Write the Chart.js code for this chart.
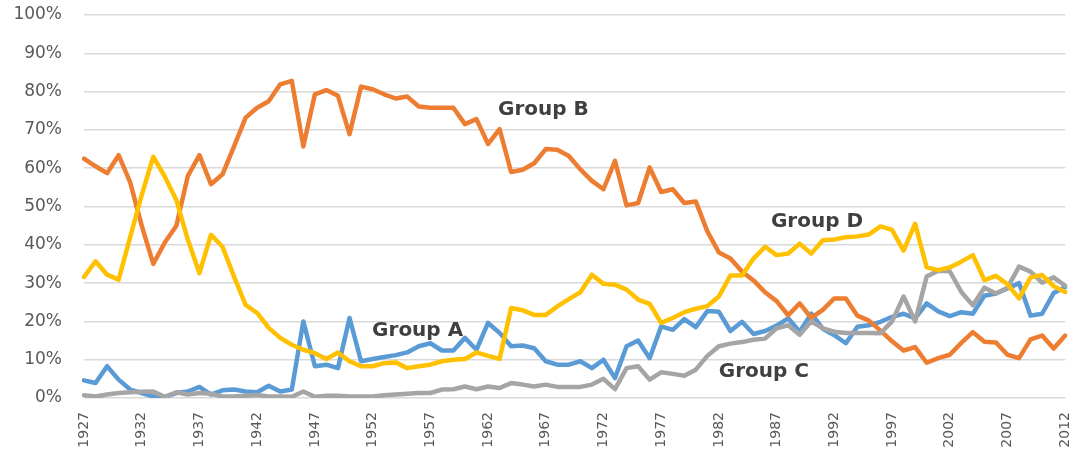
<!DOCTYPE html>
<html>
<head>
<meta charset="utf-8">
<script src="https://cdn.jsdelivr.net/npm/chart.js@4/dist/chart.umd.min.js"></script>
<style>
    html, body { margin: 0; padding: 0; background: #fff; }
    #wrap { width: 1088px; height: 453px; }
</style>
</head>
<body>
<div id="wrap"><canvas id="shareChart"></canvas></div>
<script>
// years 1927..2012
const years = [];
for (let y = 1927; y <= 2012; y++) years.push(String(y));

const groupA = [4.6,3.9,8.3,4.8,2.2,1.3,0.4,0.3,1.3,1.7,2.9,0.9,2,2.2,1.7,1.5,3.2,1.7,2.2,20,8.3,8.7,7.8,20.9,9.6,
    10.2,10.7,11.2,11.9,13.5,14.3,12.4,12.4,15.7,12.6,19.6,17,13.5,13.7,13,9.6,8.7,8.7,9.6,7.8,10,5.2,13.5,15,10.4,18.7,17.8,20.6,18.5,
    22.7,22.5,17.5,19.9,16.7,17.5,18.9,20.8,17.3,22,18.1,16.4,14.3,18.6,19,19.9,21.2,22,20.8,24.7,22.6,21.4,22.4,22,26.7,27.3,28.6,30,21.5,22,27.4,29];
const groupB = [62.5,60.5,58.7,63.4,56.3,45,35,40.6,45,58,63.4,55.8,58.4,65.7,73.2,75.8,77.5,81.9,82.8,65.7,79.3,80.4,78.9,68.9,81.3,
    80.6,79.3,78.2,78.7,76.1,75.8,75.8,75.8,71.5,72.8,66.3,70.2,59,59.6,61.3,65,64.8,63.2,59.7,56.7,54.5,61.9,50.3,50.9,60.2,53.8,54.5,50.9,51.3,
    43.5,38,36.4,33,30.7,27.6,25.3,21.6,24.7,20.9,23,26,26,21.5,20.2,17.6,14.8,12.4,13.3,9.2,10.4,11.3,14.4,17.2,14.7,14.5,11.3,10.4,15.3,16.3,12.9,16.3];
const groupC = [0.7,0.4,0.9,1.3,1.5,1.6,1.7,0.3,1.5,0.9,1.3,1.1,0.4,0.4,0.6,0.8,0.4,0.4,0.3,1.7,0.3,0.6,0.6,0.4,0.4,
    0.4,0.7,0.9,1.1,1.3,1.3,2.2,2.3,3,2.3,3,2.6,3.9,3.5,3,3.5,2.9,2.9,2.9,3.5,5,2.3,7.8,8.3,4.8,6.7,6.3,5.8,7.4,
    11,13.5,14.2,14.6,15.2,15.5,18.2,19,16.5,20,18.2,17.3,17,17,17,16.9,20,26.5,20,31.7,33.2,33.1,27.7,24.2,28.8,27.3,28.8,34.3,33,30.1,31.5,29.3];
const groupD = [31.6,35.7,32.2,30.9,42,53,63,57.8,51.7,41.3,32.6,42.6,39.5,31.7,24.3,22.2,18.3,15.7,13.9,12.6,11.7,10.2,11.9,9.6,8.3,
    8.3,9.1,9.3,7.8,8.3,8.7,9.6,10,10.2,11.9,11,10.2,23.5,22.9,21.7,21.7,23.9,25.8,27.6,32.2,29.8,29.6,28.3,25.7,24.6,19.6,20.9,22.4,23.3,
    24,26.5,32,32,36.4,39.5,37.3,37.7,40.3,37.7,41.2,41.4,42,42.2,42.7,44.8,43.9,38.5,45.5,34.1,33.4,34.1,35.6,37.3,30.8,31.9,29.7,26,31.5,32.1,29.2,27.7];

const seriesNames = ['Group A', 'Group B', 'Group C', 'Group D'];
const yTicks = [0, 10, 20, 30, 40, 50, 60, 70, 80, 90, 100];

// where the in-plot labels sit (year, percent)
const noteYears = [1955.9, 1966.8, 1985.9, 1990.5];
const noteValues = [17.6, 75.3, 6.9, 46.1];

const colors = ['#5B9BD5', '#ED7D31', '#A5A5A5', '#FFC000'];

const groupLabels = {
    id: 'groupLabels',
    afterDatasetsDraw(chart) {
        const { ctx, scales: { x, y } } = chart;
        ctx.save();
        ctx.font = 'bold 20px "DejaVu Sans"';
        ctx.fillStyle = '#404040';
        ctx.textAlign = 'center';
        ctx.textBaseline = 'middle';
        seriesNames.forEach((name, i) => {
            const px = x.getPixelForValue(noteYears[i] - 1927);
            const py = y.getPixelForValue(noteValues[i]);
            ctx.fillText(name, px, py);
        });
        ctx.restore();
    }
};

const makeSet = (i, data, order) => ({
    label: seriesNames[i],
    data: data,
    borderColor: colors[i],
    backgroundColor: colors[i],
    borderWidth: 4.5,
    pointRadius: 0,
    tension: 0,
    borderJoinStyle: 'round',
    borderCapStyle: 'round',
    order: order
});

const ctx = document.getElementById('shareChart').getContext('2d');
new Chart(ctx, {
    type: 'line',
    data: {
        labels: years,
        datasets: [
            makeSet(0, groupA, 4),
            makeSet(1, groupB, 3),
            makeSet(2, groupC, 2),
            makeSet(3, groupD, 1)
        ]
    },
    options: {
        responsive: true,
        maintainAspectRatio: false,
        animation: false,
        layout: { padding: { top: 15, right: 12, left: 0, bottom: 0 } },
        plugins: {
            legend: { display: false },
            tooltip: { enabled: false }
        },
        scales: {
            x: {
                offset: false,
                grid: { display: false },
                border: { display: false },
                afterFit: s => { s.height = 55; },
                ticks: {
                    autoSkip: false,
                    maxRotation: 90,
                    minRotation: 90,
                    padding: 6,
                    color: '#595959',
                    font: { family: 'DejaVu Sans', size: 14 },
                    callback: function (val, idx) {
                        return idx % 5 === 0 ? years[idx] : '';
                    }
                }
            },
            y: {
                min: 0,
                max: 100,
                afterFit: s => { s.width = 84; s.paddingTop = 0; s.paddingBottom = 0; },
                afterBuildTicks: s => { s.ticks = yTicks.map(v => ({ value: v })); },
                grid: { color: '#d9d9d9', lineWidth: 1.5, drawTicks: false },
                border: { display: false },
                ticks: {
                    padding: 22,
                    color: '#595959',
                    font: { family: 'DejaVu Sans', size: 17 },
                    callback: v => v + '%'
                }
            }
        }
    },
    plugins: [groupLabels]
});
</script>
</body>
</html>
